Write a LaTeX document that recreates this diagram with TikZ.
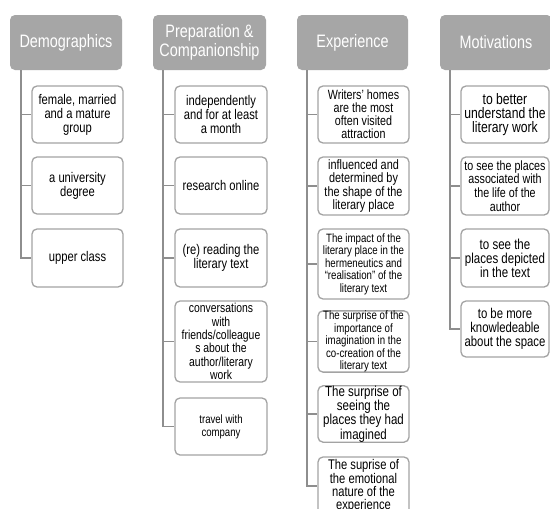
\documentclass[tikz,border=0pt]{standalone}
\usepackage{fontspec}
\setmainfont{Liberation Sans}[FakeStretch=0.8]
\definecolor{hdrgray}{HTML}{A6A6A6}
\definecolor{kidborder}{HTML}{A3A3A3}
\definecolor{conngray}{HTML}{8E8E8E}
\newcommand{\fs}[2]{\fontsize{#1}{#2}\selectfont}
\tikzset{
  hdr/.style={rectangle, rounded corners=5pt, fill=hdrgray, draw=none, text=white,
    minimum height=55pt, align=center, inner sep=0pt, font=\fs{18}{18.5}},
  kid/.style={rectangle, rounded corners=5pt, fill=white, draw=kidborder, line width=1.3pt,
    align=center, inner sep=0pt, text=black},
  conn/.style={draw=conngray, line width=1.8pt},
}
\begin{document}
\begin{tikzpicture}[x=1pt,y=-1pt]
\useasboundingbox (0,0) rectangle (550,509);
\fill[white] (0,0) rectangle (550,509);
% headers
\node[hdr, minimum width=112pt] (h1) at (66,42.5) {Demographics};
\node[hdr, minimum width=113pt] (h2) at (209.5,42.5) {Preparation \&\\Companionship};
\node[hdr, minimum width=111pt] (h3) at (352.5,42.5) {Experience};
\node[hdr, minimum width=112pt] (h4) at (496,42.5) {Motivations};
% column 1
\node[kid, minimum width=91pt, minimum height=57pt, font=\fs{14}{14}] (c1) at (77.5,114.5) {female, married\\and a mature\\group};
\node[kid, minimum width=91pt, minimum height=57pt, font=\fs{14}{14}] (c2) at (77.5,185.5) {a university\\degree};
\node[kid, minimum width=91pt, minimum height=58pt, font=\fs{14}{14}] (c3) at (77.5,258) {upper class};
% column 2
\node[kid, minimum width=92pt, minimum height=57pt, font=\fs{14}{14}] (p1) at (221,114.5) {independently\\and for at least\\a month};
\node[kid, minimum width=92pt, minimum height=57pt, font=\fs{14}{14}] (p2) at (221,185.5) {research online};
\node[kid, minimum width=92pt, minimum height=58pt, font=\fs{14}{14}] (p3) at (221,258) {(re) reading the\\literary text};
\node[kid, minimum width=92pt, minimum height=81pt, font=\fs{13}{13.3}] (p4) at (221,341.5) {conversations\\with\\friends/colleague\\s about the\\author/literary\\work};
\node[kid, minimum width=92pt, minimum height=57pt, font=\fs{12}{13}] (p5) at (221,426.5) {travel with\\company};
% column 3
\node[kid, minimum width=91pt, minimum height=57pt, font=\fs{13.4}{13}] (e1) at (363.5,114.5) {Writers’ homes\\are the most\\often visited\\attraction};
\node[kid, minimum width=91pt, minimum height=58pt, font=\fs{13.6}{13.5}] (e2) at (363.5,186) {influenced and\\determined by\\the shape of the\\literary place};
\node[kid, minimum width=91pt, minimum height=70pt, font=\fs{12.1}{12.5}] (e3) at (363.5,264) {The impact of the\\literary place in the\\hermeneutics and\\“realisation” of the\\literary text};
\node[kid, minimum width=91pt, minimum height=59pt, font=\fs{12.1}{12.5}] (e4) at (363.5,341.5) {The surprise of the\\importance of\\imagination in the\\co-creation of the\\literary text};
\node[kid, minimum width=91pt, minimum height=56pt, font=\fs{14.4}{14.3}] (e5) at (363.5,414) {The surprise of\\seeing the\\places they had\\imagined};
\node[kid, minimum width=91pt, minimum height=58pt, font=\fs{14}{13}] (e6) at (363.5,486) {The suprise of\\the emotional\\nature of the\\experience};
% column 4
\node[kid, minimum width=88pt, minimum height=57pt, font=\fs{15.2}{14.2}] (m1) at (505,114.5) {to better\\understand the\\literary work};
\node[kid, minimum width=88pt, minimum height=58pt, font=\fs{13.4}{13.7}] (m2) at (505,186) {to see the places\\associated with\\the life of the\\author};
\node[kid, minimum width=88pt, minimum height=58pt, font=\fs{14.4}{14}] (m3) at (505,258) {to see the\\places depicted\\in the text};
\node[kid, minimum width=88pt, minimum height=56pt, font=\fs{14.2}{14}] (m4) at (505,329) {to be more\\knowledeable\\about the space};
% trunk coordinates
\coordinate (v1) at (21,70);
\coordinate (v2) at (163,70);
\coordinate (v3) at (307,70);
\coordinate (v4) at (450,70);
% connectors
\draw[conn] (v1) |- (c3.west);
\draw[conn] (v1 |- c1.west) -- (c1.west);
\draw[conn] (v1 |- c2.west) -- (c2.west);
\draw[conn] (v2) |- (p5.west);
\foreach \n in {p1,p2,p3,p4} \draw[conn] (v2 |- \n.west) -- (\n.west);
\draw[conn] (v3) |- (e6.west);
\foreach \n in {e1,e2,e3,e4,e5} \draw[conn] (v3 |- \n.west) -- (\n.west);
\draw[conn] (v4) |- (m4.west);
\foreach \n in {m1,m2,m3} \draw[conn] (v4 |- \n.west) -- (\n.west);
\end{tikzpicture}
\end{document}
